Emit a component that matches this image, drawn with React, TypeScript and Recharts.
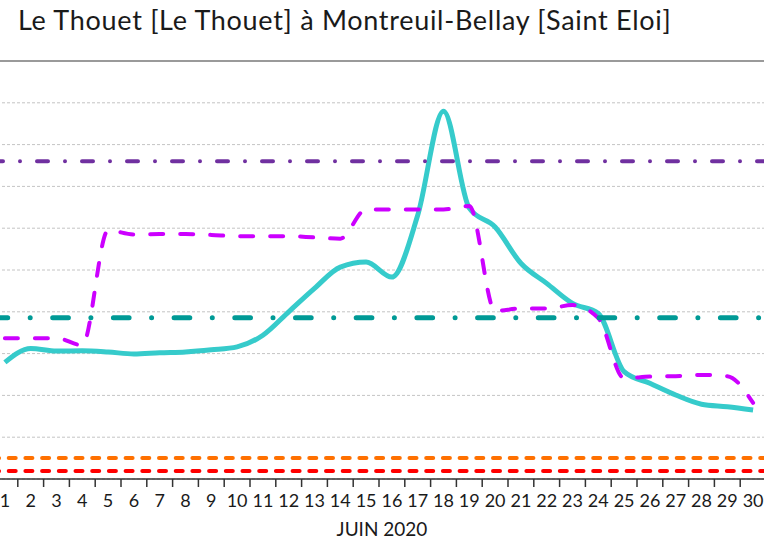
import { CartesianGrid, Line, LineChart, ReferenceLine, XAxis, YAxis } from 'recharts'

const days = [
  1, 2, 3, 4, 5, 6, 7, 8, 9, 10, 11, 12, 13, 14, 15, 16, 17, 18, 19, 20, 21, 22, 23, 24, 25, 26, 27,
  28, 29, 30,
]

// observed flow (cyan, solid)
const observed = [
  2.79, 3.12, 3.06, 3.07, 3.04, 2.99, 3.02, 3.04, 3.09, 3.16, 3.44, 4.0, 4.56, 5.07, 5.19, 4.83,
  6.31, 8.8, 6.48, 6.03, 5.16, 4.68, 4.2, 3.96, 2.57, 2.29, 2.01, 1.79, 1.73, 1.65,
]

// second series (magenta, dashed)
const reference = [
  3.37, 3.37, 3.37, 3.2, 5.95, 5.85, 5.86, 5.86, 5.84, 5.81, 5.81, 5.81, 5.78, 5.75, 6.45, 6.45,
  6.45, 6.45, 6.53, 4.02, 4.08, 4.08, 4.16, 3.85, 2.41, 2.45, 2.46, 2.49, 2.46, 1.82,
]

// thresholds
const thresholdValues = [7.6, 3.86, 0.5, 0.19]

const yTicks = [0, 1, 2, 3, 4, 5, 6, 7, 8, 9, 10]

const data = days.map((day, i) => ({ day, observed: observed[i], reference: reference[i] }))

const CHART_W = 778
const CHART_H = 551
const PLOT_TOP = 61
const PLOT_BOTTOM = 479
const PLOT_W = 774
const BAND = PLOT_W / days.length
const FONT = 'Lato, "Open Sans", sans-serif'

function DayTick(props: any) {
  const { x, payload } = props
  return (
    <g>
      <line
        x1={x + BAND / 2}
        x2={x + BAND / 2}
        y1={PLOT_BOTTOM}
        y2={PLOT_BOTTOM + 8}
        stroke="#333"
        strokeWidth={1.5}
      />
      <text x={x} y={PLOT_BOTTOM + 28} textAnchor="middle" fill="#1a1a1a" fontSize={18} fontFamily={FONT}>
        {payload.value}
      </text>
    </g>
  )
}

export default function App() {
  return (
    <div
      style={{
        position: 'absolute',
        left: 0,
        top: 0,
        width: 764,
        height: 551,
        overflow: 'hidden',
        background: '#fff',
        fontFamily: FONT,
      }}
    >
      <LineChart
        width={CHART_W}
        height={CHART_H}
        data={data}
        margin={{ top: PLOT_TOP, right: 2, bottom: 0, left: 2 }}
        style={{ position: 'absolute', left: -10, top: 0 }}
      >
        <CartesianGrid vertical={false} stroke="#c4c4c4" strokeDasharray="3 2" />
        <XAxis
          dataKey="day"
          type="number"
          domain={[0.5, 30.5]}
          ticks={days}
          interval={0}
          height={CHART_H - PLOT_BOTTOM}
          axisLine={{ stroke: '#333', strokeWidth: 1.5 }}
          tickLine={false}
          tick={<DayTick />}
        />
        <YAxis hide domain={[0, 10]} ticks={yTicks} />
        <ReferenceLine y={10} stroke="#9a9a9a" strokeWidth={2} />
        <Line
          dataKey="observed"
          type="monotone"
          stroke="#36cbcb"
          strokeWidth={5}
          dot={false}
          isAnimationActive={false}
        />
        <Line
          dataKey="reference"
          type="monotone"
          stroke="#cc00ff"
          strokeWidth={4}
          strokeDasharray="13 17"
          strokeLinecap="round"
          dot={false}
          isAnimationActive={false}
        />
        <ReferenceLine
          y={thresholdValues[0]}
          stroke="#7030a0"
          strokeWidth={4}
          strokeDasharray="11 17 0 17"
          strokeLinecap="round"
        />
        <ReferenceLine
          y={thresholdValues[1]}
          stroke="#009a96"
          strokeWidth={5}
          strokeDasharray="15.7 22.5 0 22.5"
          strokeLinecap="round"
        />
        <ReferenceLine
          y={thresholdValues[2]}
          stroke="#ff7000"
          strokeWidth={4}
          strokeDasharray="7 9.7"
          strokeLinecap="round"
        />
        <ReferenceLine
          y={thresholdValues[3]}
          stroke="#ff0000"
          strokeWidth={4}
          strokeDasharray="7 9.7"
          strokeLinecap="round"
        />
      </LineChart>
      <div
        style={{
          position: 'absolute',
          left: 18,
          top: 3,
          fontSize: 27,
          letterSpacing: 0.7,
          color: '#1a1a1a',
          whiteSpace: 'nowrap',
        }}
      >
        Le Thouet [Le Thouet] à Montreuil-Bellay [Saint Eloi]
      </div>
      <div
        style={{
          position: 'absolute',
          left: 0,
          width: 764,
          top: 517,
          textAlign: 'center',
          fontSize: 19,
          color: '#1a1a1a',
        }}
      >
        JUIN 2020
      </div>
    </div>
  )
}
